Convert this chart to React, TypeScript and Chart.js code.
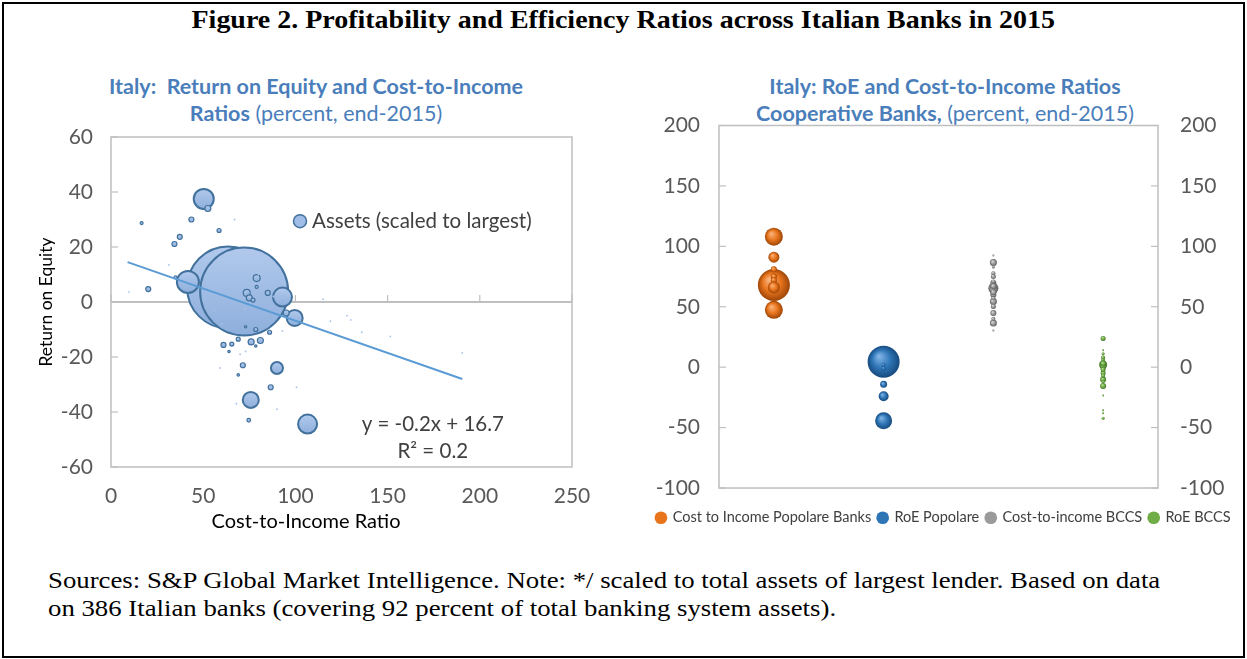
import React, { useEffect, useRef } from "react";
import { Chart, registerables } from "chart.js";
Chart.register(...registerables);

const FONT = "Lato, 'Open Sans', sans-serif";
const TICK_COLOR = "#595959";

// ---------- Left chart data: [cost-to-income, RoE, bubble radius (assets scaled)] ----------
const bankCostToIncome = [
  63.5, 72.2, 41.7, 50.3, 93, 99.6, 106.6, 75.8, 90, 52.5, 43.6, 58.6, 37.3, 34.4, 20.2,
  79, 73.6, 75, 77, 85, 79, 95, 61, 65.5, 69, 76, 81, 78.5, 86, 71.5, 86.6, 74.7,
  16.6, 35, 73, 64, 69, 78.5,
  67, 9.7, 31.4, 72.5, 70, 59, 119, 68, 90, 100.6, 128, 130, 136, 151.5, 190.5, 93, 73, 80, 88, 60, 115, 56,
];
const bankRoE = [
  5.3, 3.8, 7.3, 37.5, 1.8, -5.8, -44.4, -35.6, -24, 34, 30, 26, 23.7, 21.1, 4.7,
  8.7, 3.3, 1.5, 0.7, 3.3, 5.5, -4, -15.6, -15.3, -13.5, -14.5, -14, -10, -11, -23, -31, -43,
  28.7, 9, -9, -18, -26.5, -16,
  30, 3.6, 13.5, -2.5, -19, -24, -7, -37, -39, -31, -5, -6.5, -11, -12.5, -18.5, -10.5, -18, 10, 2, -8, 1, -3,
];
const bankAssetsRadius = [
  41, 44, 11, 10, 9.5, 8, 9.5, 8, 6, 3, 2.5, 2, 2.5, 2.5, 2.5,
  3.5, 3.5, 3, 2, 2.5, 1.5, 3, 2.5, 2, 2, 3, 3, 2, 2, 2.5, 2.5, 1.8,
  1.5, 1.5, 1.2, 1.2, 1.2, 1.2,
  0.9, 0.9, 0.9, 0.9, 0.9, 0.9, 0.9, 0.9, 0.9, 0.9, 0.9, 0.9, 0.9, 0.9, 0.9, 0.9, 0.9, 0.9, 0.9, 0.9, 0.9, 0.9,
];
const trendX = [9, 190.5];
const trendY = [14.5, -28];
const leftYRange = [-60, 60];
const leftXRange = [0, 250];
const equationText = "y = -0.2x + 16.7";
const r2Text = "R² = 0.2";
const leftXTitle = "Cost-to-Income Ratio";
const leftYTitle = "Return on Equity";

// ---------- Right chart data: [value, bubble radius] ----------
const coopSeriesNames = [
  "Cost to Income Popolare Banks",
  "RoE Popolare",
  "Cost-to-income BCCS",
  "RoE BCCS",
];
const coopSeriesX = [1, 3, 5, 7];
const costIncomePopolare = [68, 108, 91, 81, 75, 72, 53, 47.5, 66];
const costIncomePopolareR = [16, 9, 5.5, 3, 3, 3, 3, 9, 6];
const roePopolare = [4.5, -14.2, -24, -44.4, 2, -1];
const roePopolareR = [16, 3.5, 5, 8.5, 2, 2];
const costIncomeBccs = [86.6, 92.4, 77.8, 75, 69.6, 65.4, 64, 60, 54.4, 50.3, 44.8, 36.5, 30.4, 67, 62, 57, 71, 83, 40];
const costIncomeBccsR = [3.5, 1, 2, 2.5, 3, 5, 4, 3, 3.5, 2.5, 3, 3.5, 1, 3, 3, 2, 2, 1.5, 2];
const roeBccs = [23.8, 11.2, 5.9, 1.9, 0.5, -4.8, -10.2, -15.5, -23.5, -35.6, -38.2, -42.2, 3, -2, 8, -7, 14, -12];
const roeBccsR = [2.5, 1.5, 2, 4, 3, 2.5, 3, 3, 1, 1, 1, 1.5, 3, 2.5, 2, 2, 1, 1.5];
const rightYRange = [-100, 200];
const coopColors = [
  { light: "#f9b27a", base: "#e8741c", dark: "#9c4508" },
  { light: "#7fb3e6", base: "#2e75b6", dark: "#174a7e" },
  { light: "#d9d9d9", base: "#9a9a9a", dark: "#5e5e5e" },
  { light: "#b5dd98", base: "#70ad47", dark: "#44752a" },
];

// ---------- plugins ----------
const framePlugin = {
  id: "frame",
  beforeDatasetsDraw(chart: any, _args: any, opts: any) {
    const { ctx, chartArea: a } = chart;
    ctx.save();
    ctx.strokeStyle = "#bfbfbf";
    ctx.lineWidth = 1.5;
    ctx.strokeRect(a.left, a.top, a.right - a.left, a.bottom - a.top);
    ctx.lineWidth = 1.2;
    (opts.leftAxes || []).forEach((id: string) => {
      const s = chart.scales[id];
      s.ticks.forEach((t: any) => {
        const y = s.getPixelForValue(t.value);
        ctx.beginPath();
        ctx.moveTo(a.left, y);
        ctx.lineTo(a.left + 7, y);
        ctx.stroke();
      });
    });
    (opts.rightAxes || []).forEach((id: string) => {
      const s = chart.scales[id];
      s.ticks.forEach((t: any) => {
        const y = s.getPixelForValue(t.value);
        ctx.beginPath();
        ctx.moveTo(a.right, y);
        ctx.lineTo(a.right - 7, y);
        ctx.stroke();
      });
    });
    if (opts.zeroLine) {
      const ys = chart.scales.y;
      const xs = chart.scales.x;
      const y0 = ys.getPixelForValue(0);
      ctx.lineWidth = 1.8;
      ctx.beginPath();
      ctx.moveTo(a.left, y0);
      ctx.lineTo(a.right, y0);
      ctx.stroke();
      ctx.lineWidth = 1.2;
      xs.ticks.forEach((t: any) => {
        const x = xs.getPixelForValue(t.value);
        ctx.beginPath();
        ctx.moveTo(x, y0);
        ctx.lineTo(x, y0 - 7);
        ctx.stroke();
      });
    }
    ctx.restore();
  },
};

const annotationPlugin = {
  id: "notes",
  afterDraw(chart: any, _args: any, opts: any) {
    if (!opts || !opts.enabled) return;
    const { ctx, chartArea: a } = chart;
    const w = a.right - a.left;
    const h = a.bottom - a.top;
    ctx.save();
    // legend
    const lx = a.left + w * 0.41;
    const ly = a.top + h * 0.255;
    ctx.beginPath();
    ctx.arc(lx, ly, 6.5, 0, Math.PI * 2);
    ctx.fillStyle = "#9fbde6";
    ctx.fill();
    ctx.strokeStyle = "#41719c";
    ctx.lineWidth = 1.5;
    ctx.stroke();
    ctx.fillStyle = "#404040";
    ctx.font = `20.5px ${FONT}`;
    ctx.textBaseline = "middle";
    ctx.textAlign = "left";
    ctx.fillText(opts.legend, lx + 12, ly);
    ctx.textAlign = "center";
    ctx.fillText(opts.eq, a.left + w * 0.698, a.top + h * 0.87);
    ctx.fillText(opts.r2, a.left + w * 0.698, a.top + h * 0.952);
    // x-axis title (offset left of centre, as in the original)
    ctx.fillStyle = "#000";
    ctx.font = `20px ${FONT}`;
    ctx.fillText(opts.xTitle, a.left + w * 0.423, a.bottom + 55);
    ctx.restore();
  },
};

function zeroPad(s: any) {
  s.paddingTop = 0;
  s.paddingBottom = 0;
  s.paddingLeft = 0;
  s.paddingRight = 0;
}

function bubbleFillLeft(c: any) {
  const raw = c.raw;
  if (!raw) return "#9fbde6";
  if (raw.r < 1) return "#a8c3e8";
  const chart = c.chart;
  const xs = chart.scales.x;
  const ys = chart.scales.y;
  if (!xs || !ys || !chart.chartArea) return "#9fbde6";
  const cy = ys.getPixelForValue(raw.y);
  const g = chart.ctx.createLinearGradient(0, cy - raw.r, 0, cy + raw.r);
  g.addColorStop(0, "#b1c9ec");
  g.addColorStop(1, "#8eafdc");
  return g;
}

function bubbleFillRight(c: any) {
  const raw = c.raw;
  const col = coopColors[c.datasetIndex];
  if (!raw) return col.base;
  const chart = c.chart;
  const xs = chart.scales.x;
  const ys = chart.scales.y;
  if (!xs || !ys || !chart.chartArea) return col.base;
  const cx = xs.getPixelForValue(raw.x);
  const cy = ys.getPixelForValue(raw.y);
  const r = Math.max(raw.r, 0.5);
  const g = chart.ctx.createRadialGradient(cx - r * 0.3, cy - r * 0.35, r * 0.05, cx, cy, r);
  g.addColorStop(0, col.light);
  g.addColorStop(0.55, col.base);
  g.addColorStop(1, col.dark);
  return g;
}

function LeftChart() {
  const ref = useRef<HTMLCanvasElement>(null);
  useEffect(() => {
    const data = bankCostToIncome.map((x, i) => ({ x, y: bankRoE[i], r: bankAssetsRadius[i] }));
    const chart = new Chart(ref.current!, {
      type: "bubble",
      data: {
        datasets: [
          {
            type: "line",
            label: "trend",
            data: trendX.map((x, i) => ({ x, y: trendY[i] })),
            borderColor: "#5b9bd5",
            borderWidth: 2,
            pointRadius: 0,
            fill: false,
            order: 0,
          } as any,
          {
            label: "Assets (scaled to largest)",
            data,
            backgroundColor: bubbleFillLeft,
            borderColor: (c: any) => (c.raw && c.raw.r < 1 ? "rgba(0,0,0,0)" : "#41719c"),
            borderWidth: (c: any) => (c.raw && c.raw.r >= 5 ? 2 : 1.2),
            order: 1,
          },
        ],
      },
      options: {
        animation: false,
        responsive: false,
        events: [],
        layout: { autoPadding: false, padding: { top: 12, right: 28, left: 16, bottom: 0 } },
        plugins: {
          legend: { display: false },
          tooltip: { enabled: false },
          frame: { leftAxes: ["y"], zeroLine: true },
          notes: {
            enabled: true,
            legend: "Assets (scaled to largest)",
            eq: equationText,
            r2: r2Text,
            xTitle: leftXTitle,
          },
        } as any,
        scales: {
          x: {
            type: "linear",
            min: leftXRange[0],
            max: leftXRange[1],
            ticks: { stepSize: 50, color: TICK_COLOR, font: { family: FONT, size: 21 }, padding: 17 },
            grid: { display: false, drawTicks: false },
            border: { display: false },
            title: { display: false },
            afterFit: (s: any) => {
              s.height = 68;
              zeroPad(s);
            },
          },
          y: {
            min: leftYRange[0],
            max: leftYRange[1],
            ticks: { stepSize: 20, color: TICK_COLOR, font: { family: FONT, size: 21 }, padding: 18 },
            grid: { display: false, drawTicks: false },
            border: { display: false },
            title: {
              display: true,
              text: leftYTitle,
              color: "#000",
              font: { family: FONT, size: 17.5 },
              padding: { top: 0, bottom: 0 },
            },
            afterFit: (s: any) => {
              s.width = 75;
              zeroPad(s);
            },
          },
        },
      },
      plugins: [framePlugin, annotationPlugin],
    } as any);
    return () => chart.destroy();
  }, []);
  return (
    <canvas
      ref={ref}
      width={580}
      height={410}
      style={{ position: "absolute", left: 20, top: 125, width: 580, height: 410 }}
    />
  );
}

function RightChart() {
  const ref = useRef<HTMLCanvasElement>(null);
  useEffect(() => {
    const series = [
      [costIncomePopolare, costIncomePopolareR],
      [roePopolare, roePopolareR],
      [costIncomeBccs, costIncomeBccsR],
      [roeBccs, roeBccsR],
    ];
    const datasets = series.map(([vals, rs], i) => ({
      label: coopSeriesNames[i],
      data: (vals as number[]).map((v, j) => ({ x: coopSeriesX[i], y: v, r: (rs as number[])[j] })),
      backgroundColor: bubbleFillRight,
      borderWidth: 0,
      borderColor: "rgba(0,0,0,0)",
      yAxisID: "y",
    }));
    const chart = new Chart(ref.current!, {
      type: "bubble",
      data: { datasets },
      options: {
        animation: false,
        responsive: false,
        events: [],
        layout: { autoPadding: false, padding: { top: 10.5, right: 0, left: 0, bottom: 0 } },
        plugins: {
          tooltip: { enabled: false },
          frame: { leftAxes: ["y"], rightAxes: ["y2"] },
          notes: { enabled: false },
          legend: {
            position: "bottom",
            labels: {
              usePointStyle: true,
              boxWidth: 9,
              boxHeight: 9,
              padding: 7,
              color: "#404040",
              font: { family: FONT, size: 14.5 },
              generateLabels: () =>
                coopSeriesNames.map((n, i) => ({
                  text: n,
                  fillStyle: coopColors[i].base,
                  strokeStyle: coopColors[i].dark,
                  lineWidth: 0,
                  pointStyle: "circle",
                  hidden: false,
                  datasetIndex: i,
                  fontColor: "#404040",
                })),
            },
          },
        } as any,
        scales: {
          x: {
            type: "linear",
            min: 0,
            max: 8,
            ticks: { display: false },
            grid: { display: false, drawTicks: false },
            border: { display: false },
            afterFit: (s: any) => {
              s.height = 15.5;
              zeroPad(s);
            },
          },
          y: {
            position: "left",
            min: rightYRange[0],
            max: rightYRange[1],
            ticks: { stepSize: 50, color: TICK_COLOR, font: { family: FONT, size: 21 }, padding: 19 },
            grid: { display: false, drawTicks: false },
            border: { display: false },
            afterFit: (s: any) => {
              s.width = 79;
              zeroPad(s);
            },
          },
          y2: {
            position: "right",
            min: rightYRange[0],
            max: rightYRange[1],
            ticks: { stepSize: 50, color: TICK_COLOR, font: { family: FONT, size: 21 }, padding: 22 },
            grid: { display: false, drawTicks: false },
            border: { display: false },
            afterFit: (s: any) => {
              s.width = 89;
              zeroPad(s);
            },
          },
        },
      },
      plugins: [framePlugin, annotationPlugin],
    } as any);
    return () => chart.destroy();
  }, []);
  return (
    <canvas
      ref={ref}
      width={607}
      height={420}
      style={{ position: "absolute", left: 640, top: 115, width: 607, height: 420 }}
    />
  );
}

const subTitle: React.CSSProperties = {
  position: "absolute",
  color: "#4a7ebb",
  fontFamily: FONT,
  fontSize: 21.5,
  textAlign: "center",
  lineHeight: "27px",
  whiteSpace: "nowrap",
};

const SERIF = "'Liberation Serif', 'Times New Roman', serif";

export default function App() {
  return (
    <div
      style={{
        position: "absolute",
        left: 0,
        top: 0,
        width: 1247,
        height: 659,
        background: "#fff",
        overflow: "hidden",
      }}
    >
      <div
        style={{
          position: "absolute",
          left: 2,
          top: 2,
          width: 1239,
          height: 652,
          border: "2px solid #000",
        }}
      />
      <div
        style={{
          position: "absolute",
          left: 0,
          width: 1247,
          top: 3,
          textAlign: "center",
          fontFamily: SERIF,
          fontWeight: "bold",
          fontSize: 26,
          lineHeight: "34px",
          color: "#000",
          transform: "scaleX(1.076)",
          transformOrigin: "627px 0",
        }}
      >
        Figure 2. Profitability and Efficiency Ratios across Italian Banks in 2015
      </div>
      <div style={{ ...subTitle, left: 16, width: 600, top: 73 }}>
        <b>Italy:&nbsp; Return on Equity and Cost-to-Income</b>
        <br />
        <b>Ratios</b> (percent, end-2015)
      </div>
      <div style={{ ...subTitle, left: 645, width: 600, top: 73 }}>
        <b>Italy: RoE and Cost-to-Income Ratios</b>
        <br />
        <b>Cooperative Banks,</b> (percent, end-2015)
      </div>
      <LeftChart />
      <RightChart />
      <div
        style={{
          position: "absolute",
          left: 48,
          top: 567,
          fontFamily: SERIF,
          fontSize: 23,
          lineHeight: "28px",
          color: "#000",
          whiteSpace: "nowrap",
          transform: "scaleX(1.164)",
          transformOrigin: "0 0",
        }}
      >
        Sources: S&amp;P Global Market Intelligence. Note: */ scaled to total assets of largest lender. Based on data
        <br />
        on 386 Italian banks (covering 92 percent of total banking system assets).
      </div>
    </div>
  );
}
